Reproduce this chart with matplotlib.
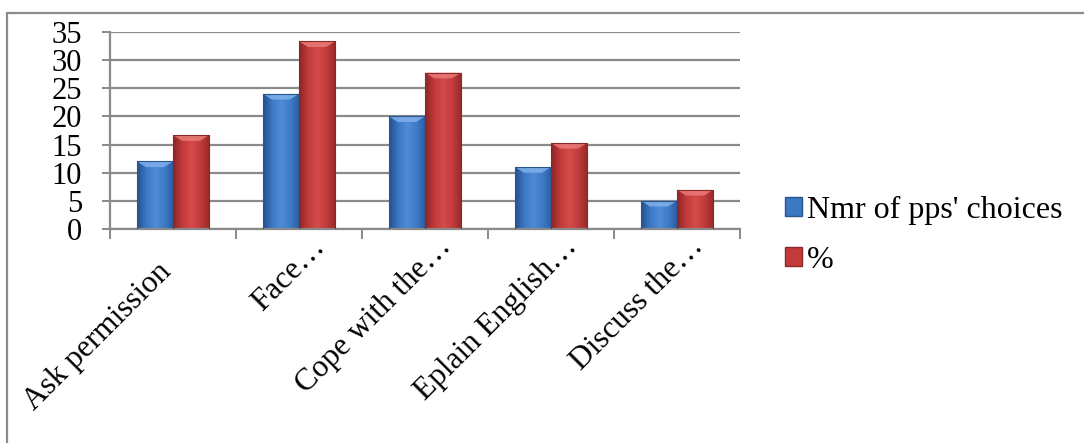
import numpy as np
import matplotlib
matplotlib.use("Agg")
import matplotlib.pyplot as plt
from matplotlib.patches import Rectangle, Polygon
from matplotlib.colors import LinearSegmentedColormap

categories = ["Ask permission", "Face…", "Cope with the…", "Eplain English…", "Discuss the…"]
choices = [12, 24, 20, 11, 5]
percent = [16.67, 33.33, 27.78, 15.28, 6.94]
series_names = ["Nmr of pps' choices", "%"]
yticks = [0, 5, 10, 15, 20, 25, 30, 35]

plt.rcParams["font.family"] = ["Liberation Serif", "DejaVu Serif"]

W, H = 1084, 443
fig = plt.figure(figsize=(W / 100, H / 100), dpi=100)

# outer chart border (left and top edges visible)
fig.patches.append(Rectangle((7 / W, -0.1), 1.2, 1 - 13 / H + 0.1, transform=fig.transFigure,
                             fill=False, edgecolor="#8c8c8c", linewidth=1.6))

ax = fig.add_axes([110 / W, 1 - 229 / H, (740 - 110) / W, (229 - 32) / H])

blue_cmap = LinearSegmentedColormap.from_list("b", ["#24508f", "#3c78c4", "#4f8bd6", "#3e7bc8", "#2a5c9f"])
red_cmap = LinearSegmentedColormap.from_list("r", ["#8e2626", "#c23a3a", "#d44b4a", "#c13b3b", "#962a2a"])

x = np.arange(len(categories))
bw = 0.286


def shaded_bars(xs, vals, cmap, top_light, edge):
    grad = np.linspace(0, 1, 64)[None, :]
    for xi, v in zip(xs, vals):
        rect = Rectangle((xi, 0), bw, v, facecolor="none", edgecolor="none")
        ax.add_patch(rect)
        im = ax.imshow(grad, cmap=cmap, extent=[xi, xi + bw, 0, v], aspect="auto",
                       interpolation="bilinear", zorder=2)
        im.set_clip_path(rect)
        bev_h = 1.0
        bev_w = bw * 0.25
        ax.add_patch(Polygon([(xi, v), (xi + bw, v), (xi + bw - bev_w, v - bev_h), (xi + bev_w, v - bev_h)],
                             closed=True, facecolor=top_light, edgecolor="none", alpha=0.85, zorder=3))
        ax.add_patch(Rectangle((xi, 0), bw, v, facecolor="none", edgecolor=edge, linewidth=0.8, zorder=4))


shaded_bars(x - bw, choices, blue_cmap, "#7fb0ea", "#2a568f")
shaded_bars(x, percent, red_cmap, "#ea7b78", "#8a2727")

ax.set_xlim(-0.5, len(categories) - 0.5)
ax.set_ylim(0, 35)
ax.set_yticks(yticks)
ax.set_yticklabels([str(t) for t in yticks], fontsize=22)
ax.yaxis.grid(True, color="#8a8a8a", linewidth=1.6, zorder=0)
ax.set_axisbelow(True)

ax.set_xticks(x)
ax.set_xticklabels([])
ax.set_xticks(np.arange(len(categories) + 1) - 0.5, minor=True)
ax.tick_params(axis="x", which="major", length=0)
ax.tick_params(axis="x", which="minor", length=7, width=1.4, color="#8a8a8a")
ax.tick_params(axis="y", length=6, width=1.4, color="#8a8a8a", pad=14)

for s in ["top", "right"]:
    ax.spines[s].set_visible(False)
for s in ["left", "bottom"]:
    ax.spines[s].set_color("#8a8a8a")
    ax.spines[s].set_linewidth(1.6)

# rotated category labels, right end of the baseline placed below each group
for i, (xi, lab) in enumerate(zip(x, categories)):
    off = (-1, -44) if i == 0 else (27, -19)
    ax.annotate(lab, xy=(xi, 0), xycoords="data", xytext=off, textcoords="offset pixels",
                rotation=45, rotation_mode="anchor", ha="right", va="baseline", fontsize=22.5)

handles = [Rectangle((0, 0), 1, 1, facecolor="#3c78c4", edgecolor="#2a568f"),
           Rectangle((0, 0), 1, 1, facecolor="#c23a3a", edgecolor="#8a2727")]
fig.legend(handles, series_names, loc="upper left", bbox_to_anchor=(772 / W, 1 - 183 / H),
           frameon=False, fontsize=23, handlelength=0.55, handleheight=0.55,
           handletextpad=0.15, labelspacing=0.65, borderaxespad=0)

fig.savefig("out.png", dpi=100)
